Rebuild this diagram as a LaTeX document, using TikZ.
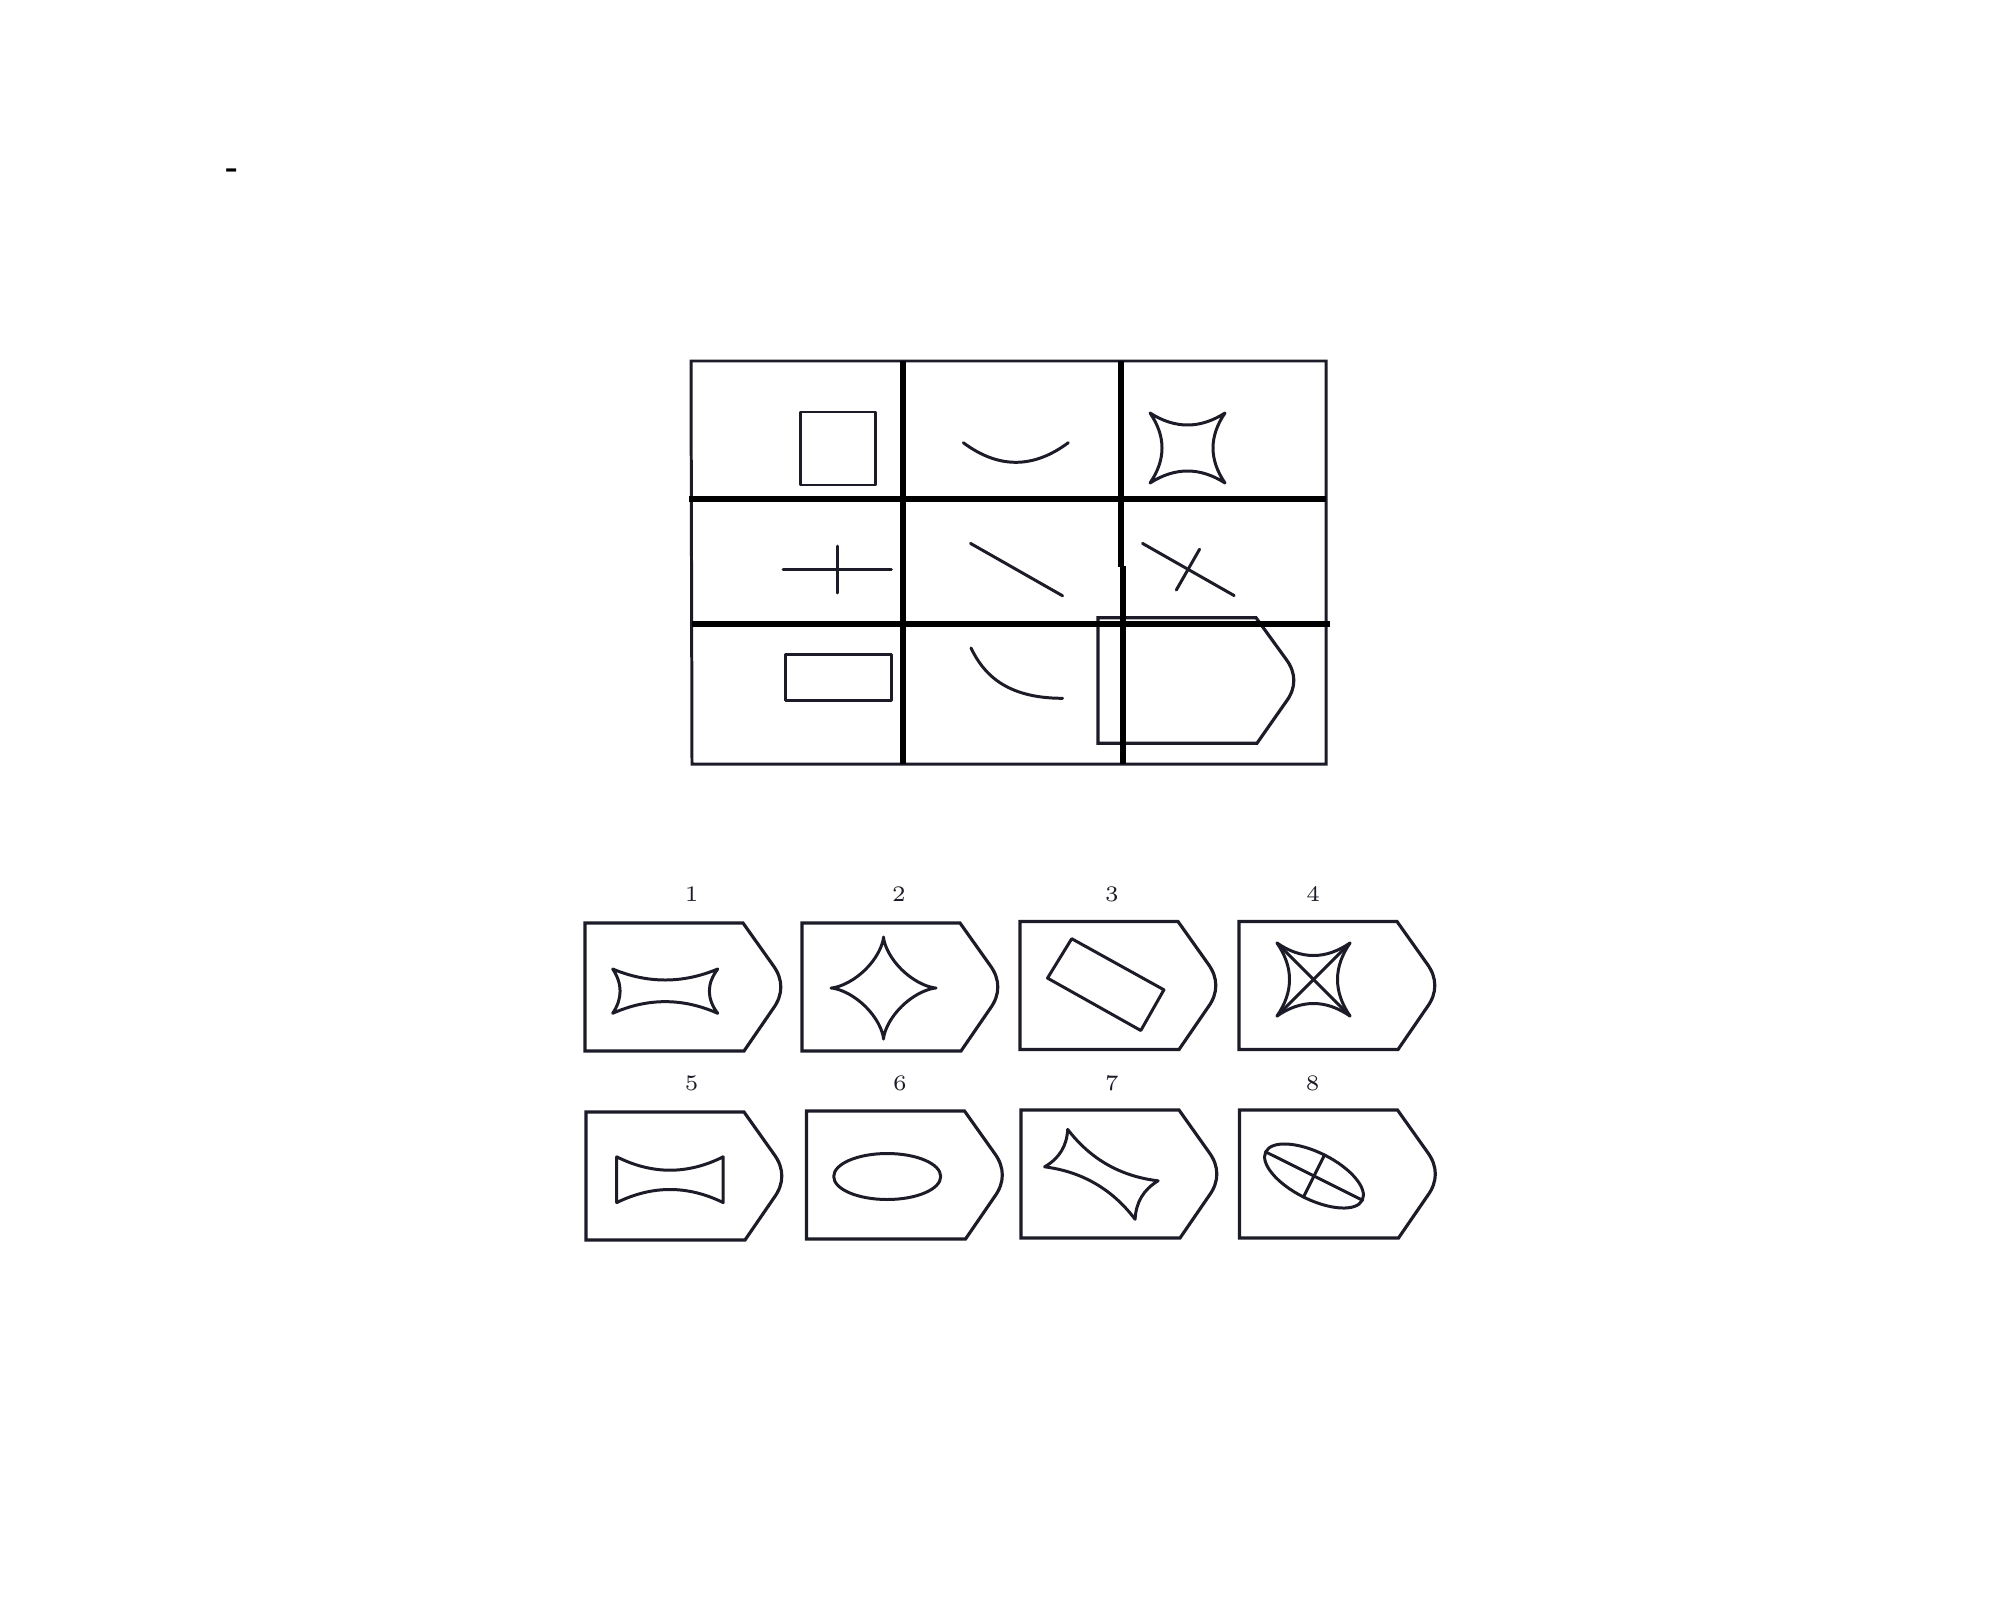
\documentclass[tikz,border=0pt]{standalone}
\usetikzlibrary{calc}
\definecolor{ink}{RGB}{28,28,40}
\begin{document}
\begin{tikzpicture}[x=0.01cm,y=-0.01cm]
\tikzset{
  frame/.style={line width=0.85pt, draw=ink},
  gridline/.style={line width=1.7pt, draw=black},
  shp/.style={line width=0.85pt, draw=ink, line join=round, line cap=round},
  abox/.style={line width=0.9pt, draw=ink, line join=miter},
  num/.style={font=\fontsize{6.3}{7}\selectfont, text=ink, inner sep=0pt},
  dashmark/.style={font=\bfseries\fontsize{9}{10}\selectfont, text=black, inner sep=0pt}
}
\newcommand\ansbox[3]{%
  \draw[abox] (#1,#2) -- ({#1+158},#2) -- ({#1+188},{#2+0.33*#3})
    .. controls ({#1+198.4},{#2+0.44*#3}) and ({#1+198.4},{#2+0.56*#3}) .. ({#1+188},{#2+0.67*#3})
    -- ({#1+159},{#2+#3}) -- (#1,{#2+#3}) -- cycle;}
\useasboundingbox (0,0) rectangle (2000,1600);

% stray mark
\node[dashmark] (dash) at (232,173) {-};

% ---------- matrix ----------
\draw[frame] (691,361) -- (1326,361) -- (1326,764) -- (692,764) -- cycle;
% placeholder in the last cell
\ansbox{1098}{617.7}{125.5}
% thick grid lines
\draw[gridline] (689,498.7) -- (1326,498.7);
\draw[gridline] (692,624) -- (1330,624);
\draw[gridline] (902.5,361) -- (902.5,764);
\draw[gridline] (1121,361) -- (1121,566.8);
\draw[gridline] (1122.7,566.3) -- (1122.7,764);

% row 1
\draw[shp] (800,412) rectangle (875,485);
\coordinate (arcK) at (1015.8,481.9);
\draw[shp] (963.3,442.7) .. controls ($(963.3,442.7)!2/3!(arcK)$) and ($(1068.3,442.7)!2/3!(arcK)$) .. (1068.3,442.7);
\coordinate (c3a) at (1150,413); \coordinate (c3b) at (1225,413);
\coordinate (c3c) at (1225,483); \coordinate (c3d) at (1150,483);
\coordinate (c3t) at (1187.5,437); \coordinate (c3r) at (1201,448);
\coordinate (c3u) at (1187.5,459); \coordinate (c3l) at (1174,448);
\draw[shp] (c3a) .. controls ($(c3a)!2/3!(c3t)$) and ($(c3b)!2/3!(c3t)$) .. (c3b)
  .. controls ($(c3b)!2/3!(c3r)$) and ($(c3c)!2/3!(c3r)$) .. (c3c)
  .. controls ($(c3c)!2/3!(c3u)$) and ($(c3d)!2/3!(c3u)$) .. (c3d)
  .. controls ($(c3d)!2/3!(c3l)$) and ($(c3a)!2/3!(c3l)$) .. (c3a) -- cycle;

% row 2
\draw[shp] (783,569.3) -- (891.3,569.3);
\draw[shp] (837.7,546) -- (837.7,593);
\draw[shp] (970.5,543.4) -- (1062.6,595.8);
\draw[shp] (1142.5,543.4) -- (1234.2,595.6);
\draw[shp] (1199.6,549.2) -- (1176.3,590);

% row 3
\draw[shp] (785,654) rectangle (891,700);
\draw[shp] (971,648) .. controls (983,673) and (1005,698.3) .. (1062.6,698.3);

% ---------- answers ----------
\ansbox{585}{923}{128}
\ansbox{802}{923}{128}
\ansbox{1020}{921.5}{128}
\ansbox{1239}{921.5}{128}
\ansbox{586}{1112}{128}
\ansbox{806.5}{1111}{128}
\ansbox{1021}{1110}{128}
\ansbox{1239.5}{1110}{128}

\node[num] (n1) at (691.6,894.5) {1};
\node[num] (n2) at (899,894.5) {2};
\node[num] (n3) at (1112,894.5) {3};
\node[num] (n4) at (1313,894.5) {4};
\node[num] (n5) at (691.6,1083.3) {5};
\node[num] (n6) at (900,1083.3) {6};
\node[num] (n7) at (1112,1083.3) {7};
\node[num] (n8) at (1312.5,1083.3) {8};

% 1: bow shape with concave sides
\coordinate (b1a) at (612.7,969); \coordinate (b1b) at (717.7,969);
\coordinate (b1c) at (717.7,1013.3); \coordinate (b1d) at (612.7,1013.3);
\coordinate (b1t) at (665.2,991); \coordinate (b1r) at (701,991.2);
\coordinate (b1u) at (665.2,990); \coordinate (b1l) at (627.5,991.2);
\draw[shp] (b1a) .. controls ($(b1a)!2/3!(b1t)$) and ($(b1b)!2/3!(b1t)$) .. (b1b)
  .. controls ($(b1b)!2/3!(b1r)$) and ($(b1c)!2/3!(b1r)$) .. (b1c)
  .. controls ($(b1c)!2/3!(b1u)$) and ($(b1d)!2/3!(b1u)$) .. (b1d)
  .. controls ($(b1d)!2/3!(b1l)$) and ($(b1a)!2/3!(b1l)$) .. (b1a) -- cycle;

% 2: four-pointed star
\draw[shp] plot[domain=0:360, samples=121, smooth]
  ({883.5+52.5*cos(\x)*cos(\x)*cos(\x)}, {988+51*sin(\x)*sin(\x)*sin(\x)}) -- cycle;

% 3: tilted rectangle
\draw[shp] (1071.7,938.7) -- (1163.9,989.8) -- (1140.8,1030.5) -- (1047.5,978.1) -- cycle;

% 4: concave square with diagonals
\coordinate (b4a) at (1277,943); \coordinate (b4b) at (1350,943);
\coordinate (b4c) at (1350,1016); \coordinate (b4d) at (1277,1016);
\coordinate (b4t) at (1313.5,968); \coordinate (b4r) at (1325,979.5);
\coordinate (b4u) at (1313.5,991); \coordinate (b4l) at (1302,979.5);
\draw[shp] (b4a) .. controls ($(b4a)!2/3!(b4t)$) and ($(b4b)!2/3!(b4t)$) .. (b4b)
  .. controls ($(b4b)!2/3!(b4r)$) and ($(b4c)!2/3!(b4r)$) .. (b4c)
  .. controls ($(b4c)!2/3!(b4u)$) and ($(b4d)!2/3!(b4u)$) .. (b4d)
  .. controls ($(b4d)!2/3!(b4l)$) and ($(b4a)!2/3!(b4l)$) .. (b4a) -- cycle;
\draw[shp] (b4a) -- (b4c);
\draw[shp] (b4b) -- (b4d);

% 5: bow shape with straight sides
\coordinate (b5a) at (616.7,1156.8); \coordinate (b5b) at (723.2,1156.8);
\coordinate (b5c) at (723.2,1202.6); \coordinate (b5d) at (616.7,1202.6);
\coordinate (b5t) at (670,1183.6); \coordinate (b5u) at (670,1176.4);
\draw[shp] (b5a) .. controls ($(b5a)!2/3!(b5t)$) and ($(b5b)!2/3!(b5t)$) .. (b5b)
  -- (b5c)
  .. controls ($(b5c)!2/3!(b5u)$) and ($(b5d)!2/3!(b5u)$) .. (b5d) -- cycle;

% 6: ellipse
\draw[shp] (887.2,1176.5) ellipse [x radius=53.5, y radius=23];

% 7: skewed concave shape
\coordinate (b7a) at (1067.7,1129.4); \coordinate (b7b) at (1158.1,1180.8);
\coordinate (b7c) at (1135.1,1219.3); \coordinate (b7d) at (1044.6,1166.8);
\coordinate (b7t) at (1102,1174.2); \coordinate (b7r) at (1136.3,1193.8);
\coordinate (b7u) at (1100.9,1174.1); \coordinate (b7l) at (1066.4,1154.4);
\draw[shp] (b7a) .. controls ($(b7a)!2/3!(b7t)$) and ($(b7b)!2/3!(b7t)$) .. (b7b)
  .. controls ($(b7b)!2/3!(b7r)$) and ($(b7c)!2/3!(b7r)$) .. (b7c)
  .. controls ($(b7c)!2/3!(b7u)$) and ($(b7d)!2/3!(b7u)$) .. (b7d)
  .. controls ($(b7d)!2/3!(b7l)$) and ($(b7a)!2/3!(b7l)$) .. (b7a) -- cycle;

% 8: tilted ellipse with axes
\draw[shp, rotate around={-26.6:(1314,1176)}] (1314,1176) ellipse [x radius=54, y radius=23.5];
\draw[shp] (1265.7,1151.9) -- (1362.3,1200.1);
\draw[shp] (1324.5,1155) -- (1303.5,1197);
\end{tikzpicture}
\end{document}
